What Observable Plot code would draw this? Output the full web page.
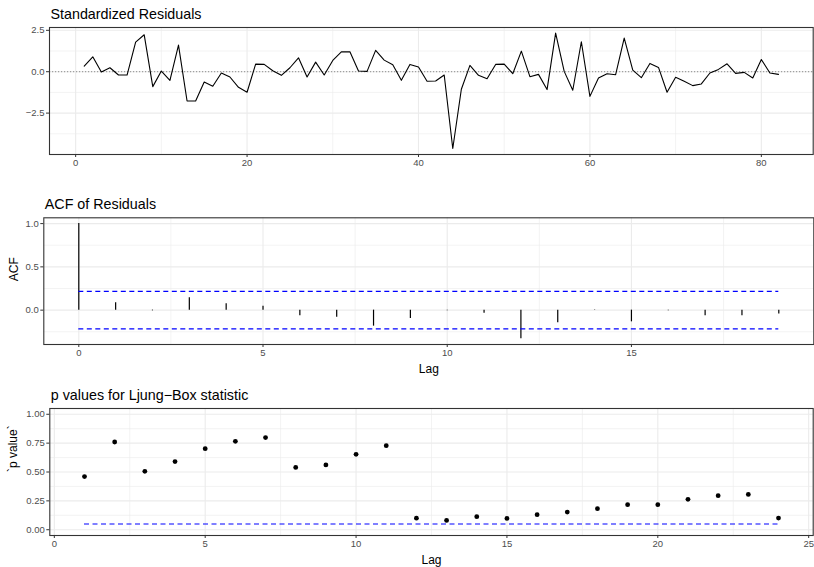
<!DOCTYPE html>
<html><head><meta charset="utf-8">
<script src="https://cdn.jsdelivr.net/npm/d3@7"></script>
<script src="https://cdn.jsdelivr.net/npm/@observablehq/plot@0.6"></script>
<style>
body{margin:0;background:#fff;}
#wrap{position:relative;width:814px;height:567px;overflow:hidden;background:#fff;}
#wrap svg{position:absolute;left:0;}
</style></head><body><div id="wrap"></div>
<script>
// ---- data ----
const residuals = [0.34,0.90,-0.02,0.24,-0.20,-0.20,1.79,2.23,-0.90,0.04,
  -0.52,1.61,-1.77,-1.77,-0.62,-0.88,-0.08,-0.32,-0.94,-1.24,
  0.46,0.44,0.06,-0.22,0.24,0.84,-0.32,0.58,-0.20,0.68,
  1.20,1.20,0.04,0.02,1.29,0.70,0.42,-0.52,0.44,0.28,
  -0.58,-0.56,-0.20,-4.64,-1.06,0.38,-0.22,-0.42,0.44,0.46,
  -0.12,1.24,-0.30,-0.16,-1.08,2.33,0.02,-1.12,1.81,-1.49,
  -0.38,-0.12,-0.18,2.03,0.10,-0.36,0.50,0.26,-1.24,-0.34,
  -0.58,-0.84,-0.74,-0.08,0.14,0.48,-0.10,-0.04,-0.38,0.74,
  -0.08,-0.16];
const acfLags = [0,1,2,3,4,5,6,7,8,9,10,11,12,13,14,15,16,17,18,19];
const acfValues = [1,0.085,-0.008,0.142,0.073,0.046,-0.065,-0.081,-0.185,-0.096,
  -0.008,-0.035,-0.33,-0.146,0.004,-0.135,-0.006,-0.065,-0.065,-0.046];
const ciBound = 0.2164;
const lbLags = [1,2,3,4,5,6,7,8,9,10,11,12,13,14,15,16,17,18,19,20,21,22,23,24];
const lbPValues = [0.46,0.76,0.506,0.59,0.702,0.766,0.798,0.54,0.561,0.653,0.728,0.10,
  0.081,0.113,0.098,0.13,0.153,0.182,0.217,0.217,0.263,0.295,0.306,0.101];
const sigLevel = 0.05;

const titles = ["Standardized Residuals", "ACF of Residuals", "p values for Ljung\u2212Box statistic"];
const xTicks1 = [0,20,40,60,80], xMinor1 = [10,30,50,70];
const yTicks1 = [-2.5,0,2.5], yMinor1 = [-3.75,-1.25,1.25];
const xTicks2 = [0,5,10,15], xMinor2 = [2.5,7.5,12.5,17.5];
const yTicks2 = [0,0.5,1], yMinor2 = [-0.25,0.25,0.75];
const xTicks3 = [0,5,10,15,20,25], xMinor3 = [2.5,7.5,12.5,17.5,22.5];
const yTicks3 = [0,0.25,0.5,0.75,1], yMinor3 = [0.125,0.375,0.625,0.875];

// ---- styling ----
const FONT = "'Liberation Sans', Arial, Helvetica, sans-serif";
const GRID = "#EBEBEB";
const minus = s => s.replace("-", "\u2212");

function panel(o) {
  const marks = [
    Plot.ruleX(o.xMinor, {stroke: GRID, strokeWidth: 0.6}),
    Plot.ruleY(o.yMinor, {stroke: GRID, strokeWidth: 0.6}),
    Plot.ruleX(o.xTicks, {stroke: GRID, strokeWidth: 1.1}),
    Plot.ruleY(o.yTicks, {stroke: GRID, strokeWidth: 1.1}),
    ...o.marks,
    Plot.frame({stroke: "#333333", strokeWidth: 1.1}),
    Plot.axisX(o.xTicks, {tickSize: 3, tickPadding: 2, stroke: "#333333", fill: "#4D4D4D",
      fontSize: 9.5, tickFormat: o.xFmt, label: null}),
    Plot.axisY(o.yTicks, {tickSize: 3, tickPadding: 2, stroke: "#333333", fill: "#4D4D4D",
      fontSize: 9.5, tickFormat: o.yFmt, label: null}),
    Plot.text([o.title], {frameAnchor: "top-left", dx: 1, dy: -8.7, lineAnchor: "bottom",
      textAnchor: "start", fontSize: 14.3, fill: "black"})
  ];
  if (o.xLabel) marks.push(Plot.text([o.xLabel], {frameAnchor: "bottom", dy: 28, lineAnchor: "bottom",
      fontSize: 12, fill: "black"}));
  if (o.yLabel) marks.push(Plot.text([o.yLabel], {frameAnchor: "left", dx: o.yLabelDx, rotate: -90,
      fontSize: 12, fill: "black"}));
  const svg = Plot.plot({
    width: 814, height: o.height,
    marginLeft: o.ml, marginRight: o.mr, marginTop: o.mt, marginBottom: o.mb,
    x: {domain: o.xDomain, axis: null},
    y: {domain: o.yDomain, axis: null},
    style: {fontFamily: FONT, background: "transparent", overflow: "visible"},
    marks
  });
  svg.style.top = o.top + "px";
  document.getElementById("wrap").appendChild(svg);
}

// Panel 1: standardized residuals
const resIdx = residuals.map((_, i) => i + 1);
panel({
  top: 0, height: 175, ml: 49, mr: 1.3, mt: 27, mb: 21,
  xDomain: [-3.05, 86.05], yDomain: [-5.0, 2.67],
  xTicks: xTicks1, xMinor: xMinor1, yTicks: yTicks1, yMinor: yMinor1,
  xFmt: d => String(d), yFmt: d => minus(d.toFixed(1)),
  title: titles[0],
  marks: [
    Plot.ruleY([0], {stroke: "#8C8C8C", strokeWidth: 1, strokeDasharray: "1.2,1.8"}),
    Plot.line(residuals, {x: (d, i) => resIdx[i], y: d => d, stroke: "black", strokeWidth: 1.1})
  ]
});

// Panel 2: ACF of residuals
panel({
  top: 175, height: 200, ml: 43.3, mr: 0.7, mt: 42.3, mb: 31,
  xDomain: [-0.95, 19.95], yDomain: [-0.397, 1.067],
  xTicks: xTicks2, xMinor: xMinor2, yTicks: yTicks2, yMinor: yMinor2,
  xFmt: d => String(d), yFmt: d => minus(d.toFixed(1)),
  title: titles[1], xLabel: "Lag", yLabel: "ACF", yLabelDx: -29.5,
  marks: [
    Plot.ruleX(acfLags, {x: d => d, y1: 0, y2: (d, i) => acfValues[i], stroke: "black", strokeWidth: 1.2}),
    Plot.ruleY([ciBound, -ciBound], {x1: acfLags[0], x2: acfLags[acfLags.length - 1], stroke: "blue",
      strokeWidth: 1.1, strokeDasharray: "5,3.5"})
  ]
});

// Panel 3: Ljung-Box p values
panel({
  top: 375, height: 192, ml: 49.3, mr: 1.3, mt: 33, mb: 32,
  xDomain: [-0.15, 25.15], yDomain: [-0.05, 1.05],
  xTicks: xTicks3, xMinor: xMinor3, yTicks: yTicks3, yMinor: yMinor3,
  xFmt: d => String(d), yFmt: d => d.toFixed(2),
  title: titles[2], xLabel: "Lag", yLabel: "`p value`", yLabelDx: -37,
  marks: [
    Plot.ruleY([sigLevel], {x1: lbLags[0], x2: lbLags[lbLags.length - 1], stroke: "blue",
      strokeWidth: 1.1, strokeDasharray: "5,3.5"}),
    Plot.dot(lbLags, {x: d => d, y: (d, i) => lbPValues[i], r: 2.4, fill: "black", stroke: "none"})
  ]
});
</script>
</body></html>
